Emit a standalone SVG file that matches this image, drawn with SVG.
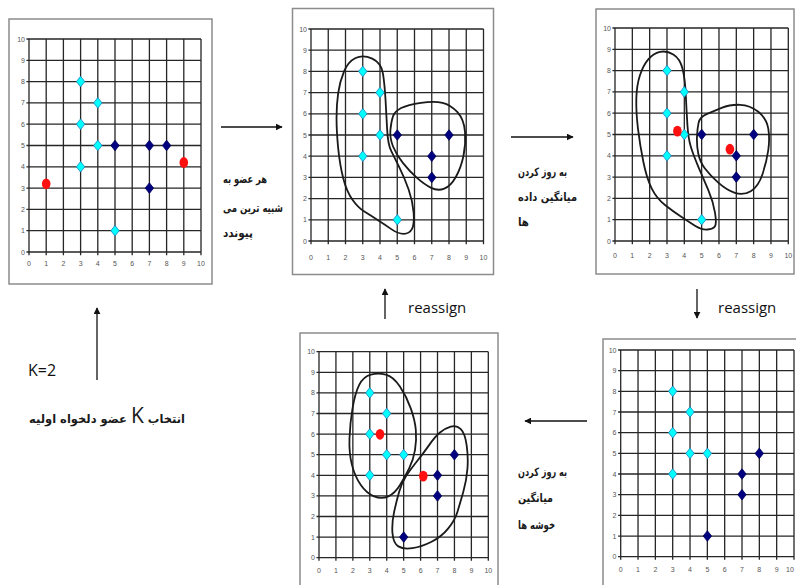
<svg xmlns="http://www.w3.org/2000/svg" width="796" height="585" viewBox="0 0 796 585">
<style>
.frame{fill:#fff;stroke:#8c8c8c;stroke-width:1.5}
.grid{fill:none;stroke:#262626;stroke-width:1.3}
.blob{fill:none;stroke:#1a1a1a;stroke-width:1.8}
.ax{font-family:"Liberation Sans",Arial,sans-serif;font-size:7px;fill:#555}
.ay{text-anchor:end}
.axx{text-anchor:middle}
.fa{font-family:"DejaVu Sans",sans-serif;font-size:11.5px;font-weight:bold;fill:#1a1a1a}
.en{font-family:"Open Sans","Liberation Sans",sans-serif;fill:#111}
.conn{stroke:#111;stroke-width:1.3;fill:none}
</style>
<defs>
<marker id="ah" viewBox="0 0 10 10" refX="9" refY="5" markerWidth="7" markerHeight="7" markerUnits="userSpaceOnUse" orient="auto">
<path d="M0,0L10,5L0,10Z" fill="#111"/>
</marker>
<path id="cy" d="M0,-5.3L4.2,0L0,5.3L-4.2,0Z" fill="#00ffff" stroke="#1e7fc0" stroke-width="0.8"/>
<path id="nv" d="M0,-5.3L4.2,0L0,5.3L-4.2,0Z" fill="#000080" stroke="#00005a" stroke-width="0.8"/>
<ellipse id="rd" rx="4.3" ry="5.4" fill="#ff1010"/>
</defs>
<rect width="796" height="585" fill="#fff"/>

<g id="panel1">
<rect class="frame" x="9" y="19" width="203" height="265"/>
<path class="grid" vector-effect="non-scaling-stroke" transform="translate(29,252) scale(17.2,-21.3)" d="M0,-0.15V10M1,-0.15V10M2,-0.15V10M3,-0.15V10M4,-0.15V10M5,-0.15V10M6,-0.15V10M7,-0.15V10M8,-0.15V10M9,-0.15V10M10,-0.15V10M-0.15,0H10M-0.15,1H10M-0.15,2H10M-0.15,3H10M-0.15,4H10M-0.15,5H10M-0.15,6H10M-0.15,7H10M-0.15,8H10M-0.15,9H10M-0.15,10H10"/>
<g class="ax ay">
<text x="25" y="254.5">0</text><text x="25" y="233.2">1</text><text x="25" y="211.9">2</text><text x="25" y="190.6">3</text><text x="25" y="169.3">4</text><text x="25" y="148">5</text><text x="25" y="126.7">6</text><text x="25" y="105.4">7</text><text x="25" y="84.1">8</text><text x="25" y="62.8">9</text><text x="25" y="41.5">10</text>
</g>
<g class="ax axx">
<text x="29" y="266">0</text><text x="46.2" y="266">1</text><text x="63.4" y="266">2</text><text x="80.6" y="266">3</text><text x="97.8" y="266">4</text><text x="115" y="266">5</text><text x="132.2" y="266">6</text><text x="149.4" y="266">7</text><text x="166.6" y="266">8</text><text x="183.8" y="266">9</text><text x="201" y="266">10</text>
</g>
<use href="#cy" x="80.6" y="81.6"/><use href="#cy" x="97.8" y="102.9"/><use href="#cy" x="80.6" y="124.2"/><use href="#cy" x="97.8" y="145.5"/><use href="#cy" x="80.6" y="166.8"/><use href="#cy" x="115" y="230.7"/>
<use href="#nv" x="115" y="145.5"/><use href="#nv" x="149.4" y="145.5"/><use href="#nv" x="166.6" y="145.5"/><use href="#nv" x="149.4" y="188.1"/>
<use href="#rd" x="46.2" y="183.8"/><use href="#rd" x="183.8" y="162.5"/>
</g>

<g id="panel2">
<rect class="frame" x="292.5" y="8.5" width="201" height="266"/>
<path class="grid" vector-effect="non-scaling-stroke" transform="translate(311,241) scale(17.25,-21.2)" d="M0,-0.15V10M1,-0.15V10M2,-0.15V10M3,-0.15V10M4,-0.15V10M5,-0.15V10M6,-0.15V10M7,-0.15V10M8,-0.15V10M9,-0.15V10M10,-0.15V10M-0.15,0H10M-0.15,1H10M-0.15,2H10M-0.15,3H10M-0.15,4H10M-0.15,5H10M-0.15,6H10M-0.15,7H10M-0.15,8H10M-0.15,9H10M-0.15,10H10"/>
<g class="ax ay">
<text x="307" y="243.5">0</text><text x="307" y="222.3">1</text><text x="307" y="201.1">2</text><text x="307" y="179.9">3</text><text x="307" y="158.7">4</text><text x="307" y="137.5">5</text><text x="307" y="116.3">6</text><text x="307" y="95.1">7</text><text x="307" y="73.9">8</text><text x="307" y="52.7">9</text><text x="307" y="31.5">10</text>
</g>
<g class="ax axx">
<text x="311" y="259.5">0</text><text x="328.3" y="259.5">1</text><text x="345.5" y="259.5">2</text><text x="362.8" y="259.5">3</text><text x="380" y="259.5">4</text><text x="397.3" y="259.5">5</text><text x="414.5" y="259.5">6</text><text x="431.8" y="259.5">7</text><text x="449" y="259.5">8</text><text x="466.3" y="259.5">9</text><text x="483.5" y="259.5">10</text>
</g>
<g transform="translate(311,241) scale(17.25,-21.2)">
<path class="blob" vector-effect="non-scaling-stroke" d="M2.585,8.63 Q3.02,8.8 3.55,8.6 Q4.08,8.4 4.175,7.885 Q4.27,7.37 4.32,6.665 Q4.37,5.96 4.415,5.255 Q4.46,4.55 4.655,4.235 Q4.85,3.92 5.135,3.45 Q5.42,2.98 5.66,2.43 Q5.9,1.88 5.95,1.33 Q6,0.78 5.85,0.56 Q5.7,0.34 5.37,0.34 Q5.04,0.34 4.655,0.56 Q4.27,0.78 3.885,0.98 Q3.5,1.18 3.115,1.375 Q2.73,1.57 2.395,1.96 Q2.06,2.35 1.865,2.975 Q1.67,3.6 1.575,4.385 Q1.48,5.17 1.48,5.8 Q1.48,6.43 1.575,6.975 Q1.67,7.52 1.91,7.99 Q2.15,8.46 2.585,8.63 Z"/>
<path class="blob" vector-effect="non-scaling-stroke" d="M4.75,5.875 Q4.85,6.11 5.225,6.27 Q5.6,6.43 6.375,6.52 Q7.15,6.61 7.625,6.52 Q8.1,6.43 8.49,6.075 Q8.88,5.72 8.93,5.135 Q8.98,4.55 8.835,4 Q8.69,3.45 8.395,3.02 Q8.1,2.59 7.725,2.47 Q7.35,2.35 6.965,2.505 Q6.58,2.66 6.145,2.975 Q5.71,3.29 5.325,3.685 Q4.94,4.08 4.75,4.47 Q4.56,4.86 4.605,5.25 Q4.65,5.64 4.75,5.875 Z"/>
</g>
<use href="#cy" x="362.8" y="71.4"/><use href="#cy" x="380" y="92.6"/><use href="#cy" x="362.8" y="113.8"/><use href="#cy" x="380" y="135"/><use href="#cy" x="362.8" y="156.2"/><use href="#cy" x="397.3" y="219.8"/>
<use href="#nv" x="397.3" y="135"/><use href="#nv" x="431.8" y="156.2"/><use href="#nv" x="449" y="135"/><use href="#nv" x="431.8" y="177.4"/>
</g>

<g id="panel3">
<rect class="frame" x="596" y="9" width="198" height="265"/>
<path class="grid" vector-effect="non-scaling-stroke" transform="translate(615,241) scale(17.33,-21.3)" d="M0,-0.15V10M1,-0.15V10M2,-0.15V10M3,-0.15V10M4,-0.15V10M5,-0.15V10M6,-0.15V10M7,-0.15V10M8,-0.15V10M9,-0.15V10M10,-0.15V10M-0.15,0H10M-0.15,1H10M-0.15,2H10M-0.15,3H10M-0.15,4H10M-0.15,5H10M-0.15,6H10M-0.15,7H10M-0.15,8H10M-0.15,9H10M-0.15,10H10"/>
<g class="ax ay">
<text x="611" y="243.5">0</text><text x="611" y="222.2">1</text><text x="611" y="200.9">2</text><text x="611" y="179.6">3</text><text x="611" y="158.3">4</text><text x="611" y="137">5</text><text x="611" y="115.7">6</text><text x="611" y="94.4">7</text><text x="611" y="73.1">8</text><text x="611" y="51.8">9</text><text x="611" y="30.5">10</text>
</g>
<g class="ax axx">
<text x="615" y="258">0</text><text x="632.3" y="258">1</text><text x="649.7" y="258">2</text><text x="667" y="258">3</text><text x="684.3" y="258">4</text><text x="701.7" y="258">5</text><text x="719" y="258">6</text><text x="736.3" y="258">7</text><text x="753.7" y="258">8</text><text x="771" y="258">9</text><text x="788.3" y="258">10</text>
</g>
<g transform="translate(615,241) scale(17.33,-21.3)">
<path class="blob" vector-effect="non-scaling-stroke" d="M2.595,8.875 Q2.98,8.95 3.365,8.755 Q3.75,8.56 3.895,8.095 Q4.04,7.63 4.085,6.845 Q4.13,6.06 4.18,5.435 Q4.23,4.81 4.375,4.42 Q4.52,4.03 4.81,3.485 Q5.1,2.94 5.385,2.39 Q5.67,1.84 5.77,1.335 Q5.87,0.83 5.77,0.695 Q5.67,0.56 5.335,0.54 Q5,0.52 4.615,0.715 Q4.23,0.91 3.8,1.145 Q3.37,1.38 2.885,1.69 Q2.4,2 2.115,2.47 Q1.83,2.94 1.635,3.72 Q1.44,4.5 1.325,5.28 Q1.21,6.06 1.23,6.685 Q1.25,7.31 1.44,7.78 Q1.63,8.25 1.92,8.525 Q2.21,8.8 2.595,8.875 Z"/>
<path class="blob" vector-effect="non-scaling-stroke" d="M4.825,5.555 Q4.9,5.83 5.285,5.96 Q5.67,6.09 6.15,6.25 Q6.63,6.41 7.21,6.395 Q7.79,6.38 8.27,6.065 Q8.75,5.75 8.845,5.28 Q8.94,4.81 8.845,4.265 Q8.75,3.72 8.51,3.135 Q8.27,2.55 7.835,2.34 Q7.4,2.13 6.92,2.26 Q6.44,2.39 5.96,2.74 Q5.48,3.09 5.19,3.405 Q4.9,3.72 4.805,4.11 Q4.71,4.5 4.73,4.89 Q4.75,5.28 4.825,5.555 Z"/>
</g>
<use href="#cy" x="667" y="70.6"/><use href="#cy" x="684.3" y="91.9"/><use href="#cy" x="667" y="113.2"/><use href="#cy" x="684.3" y="134.5"/><use href="#cy" x="667" y="155.8"/><use href="#cy" x="701.7" y="219.7"/>
<use href="#nv" x="701.7" y="134.5"/><use href="#nv" x="736.3" y="155.8"/><use href="#nv" x="753.7" y="134.5"/><use href="#nv" x="736.3" y="177.1"/>
<use href="#rd" x="677.4" y="131.1"/><use href="#rd" x="729.9" y="149.2"/>
</g>

<g id="panel4">
<rect class="frame" x="300" y="333" width="198" height="262"/>
<path class="grid" vector-effect="non-scaling-stroke" transform="translate(319,557.7) scale(16.93,-20.6)" d="M0,-0.15V10M1,-0.15V10M2,-0.15V10M3,-0.15V10M4,-0.15V10M5,-0.15V10M6,-0.15V10M7,-0.15V10M8,-0.15V10M9,-0.15V10M10,-0.15V10M-0.15,0H10M-0.15,1H10M-0.15,2H10M-0.15,3H10M-0.15,4H10M-0.15,5H10M-0.15,6H10M-0.15,7H10M-0.15,8H10M-0.15,9H10M-0.15,10H10"/>
<g class="ax ay">
<text x="315" y="560.2">0</text><text x="315" y="539.6">1</text><text x="315" y="519">2</text><text x="315" y="498.4">3</text><text x="315" y="477.8">4</text><text x="315" y="457.2">5</text><text x="315" y="436.6">6</text><text x="315" y="416">7</text><text x="315" y="395.4">8</text><text x="315" y="374.8">9</text><text x="315" y="354.2">10</text>
</g>
<g class="ax axx">
<text x="319" y="573">0</text><text x="335.9" y="573">1</text><text x="352.9" y="573">2</text><text x="369.8" y="573">3</text><text x="386.7" y="573">4</text><text x="403.7" y="573">5</text><text x="420.6" y="573">6</text><text x="437.5" y="573">7</text><text x="454.4" y="573">8</text><text x="471.4" y="573">9</text><text x="488.3" y="573">10</text>
</g>
<g transform="translate(319,557.7) scale(16.93,-20.6)">
<path class="blob" vector-effect="non-scaling-stroke" d="M3.06,8.885 Q3.5,8.98 3.945,8.885 Q4.39,8.79 4.78,8.305 Q5.17,7.82 5.42,7.25 Q5.67,6.68 5.72,6.195 Q5.77,5.71 5.67,5.225 Q5.57,4.74 5.325,4.335 Q5.08,3.93 4.785,3.525 Q4.49,3.12 4.095,2.975 Q3.7,2.83 3.255,2.975 Q2.81,3.12 2.47,3.525 Q2.13,3.93 1.95,4.495 Q1.77,5.06 1.8,5.79 Q1.83,6.52 1.98,7.25 Q2.13,7.98 2.375,8.385 Q2.62,8.79 3.06,8.885 Z"/>
<path class="blob" vector-effect="non-scaling-stroke" d="M6.505,5.465 Q6.85,5.87 7.145,6.075 Q7.44,6.28 7.785,6.36 Q8.13,6.44 8.375,6.24 Q8.62,6.04 8.72,5.47 Q8.82,4.9 8.77,4.335 Q8.72,3.77 8.525,3.205 Q8.33,2.64 8.18,2.235 Q8.03,1.83 7.635,1.425 Q7.24,1.02 6.65,0.775 Q6.06,0.53 5.52,0.465 Q4.98,0.4 4.685,0.55 Q4.39,0.7 4.34,1.185 Q4.29,1.67 4.44,2.235 Q4.59,2.8 4.735,3.205 Q4.88,3.61 5.125,3.935 Q5.37,4.26 5.765,4.66 Q6.16,5.06 6.505,5.465 Z"/>
</g>
<use href="#cy" x="369.8" y="392.9"/><use href="#cy" x="386.7" y="413.5"/><use href="#cy" x="369.8" y="434.1"/><use href="#cy" x="386.7" y="454.7"/><use href="#cy" x="403.7" y="454.7"/><use href="#cy" x="369.8" y="475.3"/>
<use href="#nv" x="437.5" y="475.3"/><use href="#nv" x="454.4" y="454.7"/><use href="#nv" x="437.5" y="495.9"/><use href="#nv" x="403.7" y="537.1"/>
<use href="#rd" x="380" y="434.3"/><use href="#rd" x="423.3" y="476.1"/>
</g>

<g id="panel5">
<rect class="frame" x="603" y="339" width="200" height="260"/>
<path class="grid" vector-effect="non-scaling-stroke" transform="translate(620.7,556.7) scale(17.33,-20.67)" d="M0,-0.15V10M1,-0.15V10M2,-0.15V10M3,-0.15V10M4,-0.15V10M5,-0.15V10M6,-0.15V10M7,-0.15V10M8,-0.15V10M9,-0.15V10M10,-0.15V10M-0.15,0H10M-0.15,1H10M-0.15,2H10M-0.15,3H10M-0.15,4H10M-0.15,5H10M-0.15,6H10M-0.15,7H10M-0.15,8H10M-0.15,9H10M-0.15,10H10"/>
<g class="ax ay">
<text x="616.5" y="559.2">0</text><text x="616.5" y="538.5">1</text><text x="616.5" y="517.9">2</text><text x="616.5" y="497.2">3</text><text x="616.5" y="476.5">4</text><text x="616.5" y="455.9">5</text><text x="616.5" y="435.2">6</text><text x="616.5" y="414.5">7</text><text x="616.5" y="393.8">8</text><text x="616.5" y="373.2">9</text><text x="616.5" y="352.5">10</text>
</g>
<g class="ax axx">
<text x="620.7" y="572">0</text><text x="638" y="572">1</text><text x="655.4" y="572">2</text><text x="672.7" y="572">3</text><text x="690" y="572">4</text><text x="707.4" y="572">5</text><text x="724.7" y="572">6</text><text x="742" y="572">7</text><text x="759.3" y="572">8</text><text x="776.7" y="572">9</text><text x="790" y="572">10</text>
</g>
<use href="#cy" x="672.7" y="391.3"/><use href="#cy" x="690" y="412"/><use href="#cy" x="672.7" y="432.7"/><use href="#cy" x="690" y="453.4"/><use href="#cy" x="707.4" y="453.4"/><use href="#cy" x="672.7" y="474"/>
<use href="#nv" x="742" y="474"/><use href="#nv" x="742" y="494.7"/><use href="#nv" x="759.3" y="453.4"/><use href="#nv" x="707.4" y="536"/>
</g>

<g id="connectors">
<line class="conn" x1="221" y1="127" x2="282" y2="127" marker-end="url(#ah)"/>
<line class="conn" x1="511" y1="137" x2="573" y2="137" marker-end="url(#ah)"/>
<line class="conn" x1="697" y1="289" x2="697" y2="318" marker-end="url(#ah)"/>
<line class="conn" x1="385" y1="319" x2="385" y2="289" marker-end="url(#ah)"/>
<line class="conn" x1="587" y1="421" x2="525" y2="421" marker-end="url(#ah)"/>
<line class="conn" x1="97" y1="380" x2="97" y2="308" marker-end="url(#ah)"/>
</g>

<g id="labels">
<text class="fa" x="223" y="183" textLength="44" lengthAdjust="spacingAndGlyphs">هر عضو به</text>
<text class="fa" x="223" y="212" textLength="60" lengthAdjust="spacingAndGlyphs">شبیه ترین می</text>
<text class="fa" x="223" y="237" textLength="30" lengthAdjust="spacingAndGlyphs">پیوندد</text>
<text class="fa" x="518" y="176" textLength="49" lengthAdjust="spacingAndGlyphs">به روز کردن</text>
<text class="fa" x="518" y="201" textLength="59" lengthAdjust="spacingAndGlyphs">میانگین داده</text>
<text class="fa" x="518" y="226" textLength="11" lengthAdjust="spacingAndGlyphs">ها</text>
<text class="fa" x="518" y="476" textLength="49" lengthAdjust="spacingAndGlyphs">به روز کردن</text>
<text class="fa" x="518" y="502" textLength="35" lengthAdjust="spacingAndGlyphs">میانگین</text>
<text class="fa" x="518" y="529" textLength="37" lengthAdjust="spacingAndGlyphs">خوشه ها</text>
<text class="en" x="718" y="313" font-size="15">reassign</text>
<text class="en" x="408" y="313" font-size="15">reassign</text>
<text class="en" x="28" y="376" font-size="16">K=2</text>
<text class="fa" x="107" y="423" direction="rtl" text-anchor="middle" font-size="10">انتخاب <tspan font-family="Open Sans, sans-serif" font-weight="normal" font-size="21">K</tspan> عضو دلخواه اولیه</text>
</g>
</svg>
